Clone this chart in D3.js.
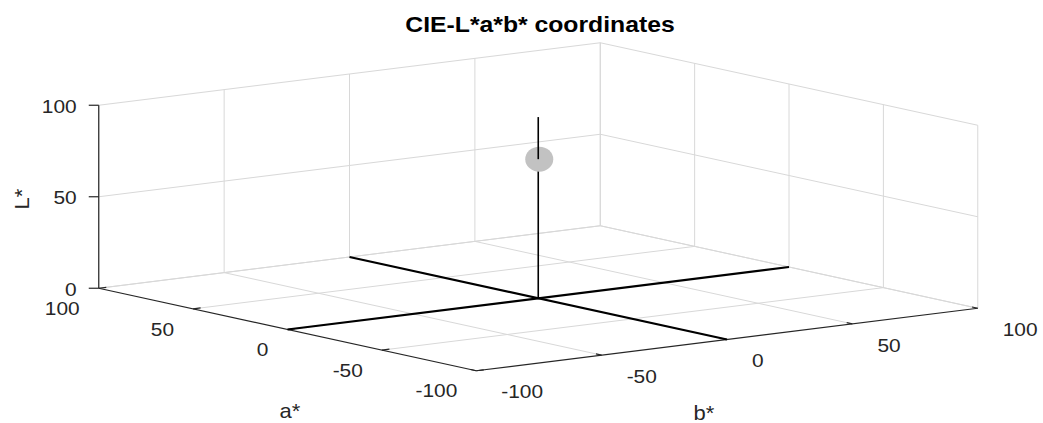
<!DOCTYPE html>
<html>
<head>
<meta charset="utf-8">
<script src="https://cdn.jsdelivr.net/npm/d3@7"></script>
<style>
  body { margin: 0; background: #fff; }
  text { font-family: "Liberation Sans", Arial, sans-serif; fill: #262626; }
</style>
</head>
<body>
<svg id="chart-svg" width="1043" height="423"></svg>
<script>
// ticks for the three axes
const aTicks = [-100, -50, 0, 50, 100];
const bTicks = [-100, -50, 0, 50, 100];
const LTicks = [0, 50, 100];
const aTickLabels = ["-100", "-50", "0", "50", "100"];
const bTickLabels = ["-100", "-50", "0", "50", "100"];
const LTickLabels = ["0", "50", "100"];

// the colour point, and the reference cross + stem through the neutral axis
const pointA = [0];
const pointB = [0];
const pointL = [76];
const crossA = [-100, 100];
const crossB = [-100, 100];
const stemL = [0, 99];

const svg = d3.select("#chart-svg");

// orthographic view, one scale per screen component
var cx = 538.25, cy = 298.25;
var aX = d3.scaleLinear().domain([-100, 100]).range([188.75, -188.75]);
var aY = d3.scaleLinear().domain([-100, 100]).range([41.25, -41.25]);
var bX = d3.scaleLinear().domain([-100, 100]).range([-250.75, 250.75]);
var bY = d3.scaleLinear().domain([-100, 100]).range([31.25, -31.25]);
var lY = d3.scaleLinear().domain([0, 100]).range([0, -183]);

function proj(a, b, L) {
  return [cx + aX(a) + bX(b), cy + aY(a) + bY(b) + lY(L)];
}

var aMin = d3.min(aTicks), aMax = d3.max(aTicks);
var bMin = d3.min(bTicks), bMax = d3.max(bTicks);
var LMin = d3.min(LTicks), LMax = d3.max(LTicks);

function seg(g, p, q, color, w) {
  var s = proj(p[0], p[1], p[2]), e = proj(q[0], q[1], q[2]);
  g.append("line")
   .attr("x1", s[0]).attr("y1", s[1])
   .attr("x2", e[0]).attr("y2", e[1])
   .attr("stroke", color)
   .attr("stroke-width", w);
}

// grid lines
var grid = svg.append("g");
var gridColor = "#d8d8d8";
// floor
aTicks.forEach(function(a) { if (a != aMin) seg(grid, [a, bMin, LMin], [a, bMax, LMin], gridColor, 1); });
bTicks.forEach(function(b) { if (b != bMin) seg(grid, [aMin, b, LMin], [aMax, b, LMin], gridColor, 1); });
// back-left wall (a = max)
bTicks.forEach(function(b) { seg(grid, [aMax, b, LMin], [aMax, b, LMax], gridColor, 1); });
LTicks.forEach(function(L) { seg(grid, [aMax, bMin, L], [aMax, bMax, L], gridColor, 1); });
// back-right wall (b = max)
aTicks.forEach(function(a) { seg(grid, [a, bMax, LMin], [a, bMax, LMax], gridColor, 1); });
LTicks.forEach(function(L) { seg(grid, [aMin, bMax, L], [aMax, bMax, L], gridColor, 1); });

// axis lines
var axes = svg.append("g");
var axisColor = "#262626";
seg(axes, [aMax, bMin, LMin], [aMax, bMin, LMax], axisColor, 1.2);
seg(axes, [aMax, bMin, LMin], [aMin, bMin, LMin], axisColor, 1.2);
seg(axes, [aMin, bMin, LMin], [aMin, bMax, LMin], axisColor, 1.2);

// ticks
LTicks.forEach(function(L) {
  var p = proj(aMax, bMin, L);
  axes.append("line")
      .attr("x1", p[0] - 10).attr("y1", p[1])
      .attr("x2", p[0]).attr("y2", p[1])
      .attr("stroke", axisColor).attr("stroke-width", 1.2);
});
aTicks.forEach(function(a) { seg(axes, [a, bMin, LMin], [a, bMin + 3, LMin], axisColor, 1.2); });
bTicks.forEach(function(b) { seg(axes, [aMin, b, LMin], [aMin + 3, b, LMin], axisColor, 1.2); });

// tick labels
var tickFont = 19, sx = 1.1;
function label(x, y, txt, anchor, size, weight) {
  axes.append("text")
      .attr("transform", "translate(" + x + "," + y + ") scale(" + sx + ",1)")
      .attr("text-anchor", anchor)
      .attr("dy", "0.35em")
      .style("font-size", size + "px")
      .style("font-weight", weight || "normal")
      .text(txt);
}
LTicks.forEach(function(L, i) {
  var p = proj(aMax, bMin, L);
  label(p[0] - 22, p[1] + 1, LTickLabels[i], "end", tickFont);
});
aTicks.forEach(function(a, i) {
  var p = proj(a, bMin, LMin);
  label(p[0] - 19, p[1] + 20, aTickLabels[i], "end", tickFont);
});
bTicks.forEach(function(b, i) {
  var p = proj(aMin, b, LMin);
  label(p[0] + 25, p[1] + 21, bTickLabels[i], "start", tickFont);
});

// axis titles
axes.append("text")
    .attr("transform", "translate(29,199) rotate(-90) scale(" + sx + ",1)")
    .attr("text-anchor", "middle")
    .style("font-size", "20px")
    .text("L*");
axes.append("text")
    .attr("transform", "translate(290,418) scale(" + sx + ",1)")
    .attr("text-anchor", "middle")
    .style("font-size", "20px")
    .text("a*");
axes.append("text")
    .attr("transform", "translate(704,420) scale(" + sx + ",1)")
    .attr("text-anchor", "middle")
    .style("font-size", "20px")
    .text("b*");

// title
svg.append("text")
   .attr("transform", "translate(540,32) scale(1.1,1)")
   .attr("text-anchor", "middle")
   .style("font-size", "22.5px")
   .style("font-weight", "bold")
   .style("fill", "#000")
   .text("CIE-L*a*b* coordinates");

// reference cross on the floor
var marks = svg.append("g");
seg(marks, [crossA[0], 0, LMin], [crossA[1], 0, LMin], "#000", 2.2);
seg(marks, [0, crossB[0], LMin], [0, crossB[1], LMin], "#000", 2.2);

// stem below the point, the point, then the stem above it
seg(marks, [0, 0, stemL[0]], [pointA[0], pointB[0], pointL[0]], "#000", 1.6);
marks.selectAll("ellipse")
     .data(pointL)
     .enter()
     .append("ellipse")
     .attr("cx", function(d, i) { return proj(pointA[i], pointB[i], d)[0] + 1; })
     .attr("cy", function(d, i) { return proj(pointA[i], pointB[i], d)[1]; })
     .attr("rx", 14)
     .attr("ry", 12.5)
     .attr("fill", "#c2c2c2");
seg(marks, [pointA[0], pointB[0], pointL[0]], [0, 0, stemL[1]], "#000", 1.6);
</script>
</body>
</html>
